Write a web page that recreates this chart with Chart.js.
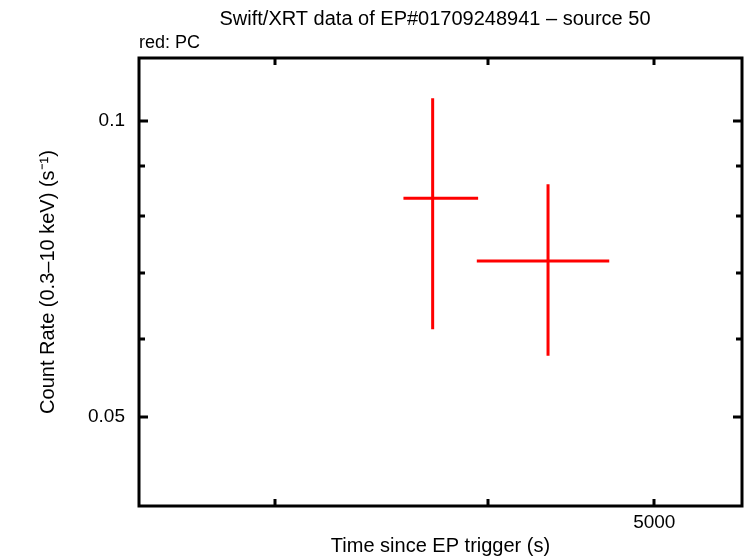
<!DOCTYPE html>
<html>
<head>
<meta charset="utf-8">
<script src="https://cdn.jsdelivr.net/npm/chart.js@4"></script>
<style>
  html, body { margin: 0; padding: 0; background: #fff; }
</style>
</head>
<body>
<canvas id="lc" width="746" height="558"></canvas>
<script>
// light curve bins (PC mode)
const times = [3711, 4334];
const timeLo = [3568, 3938];
const timeHi = [3945, 4706];
const rates = [0.0834, 0.0720];
const rateLo = [0.0614, 0.0577];
const rateHi = [0.1054, 0.0862];

const xTicks = [3000, 4000, 5000];
const xLabels = ['', '', '5000'];
const yTicks = [0.05, 0.06, 0.07, 0.08, 0.09, 0.1];
const yLabels = ['0.05', '', '', '', '', '0.1'];
const yMajor = [0.05, 0.1];

const title = 'Swift/XRT data of EP#01709248941 \u2013 source 50';
const subtitle = 'red: PC';

const FONT = '"Liberation Sans", Arial, sans-serif';

const points = times.map((t, i) => ({
  x: t, y: rates[i],
  xMin: timeLo[i], xMax: timeHi[i], yMin: rateLo[i], yMax: rateHi[i]
}));

// error bars, frame, inward ticks and the titles
const gnuplotLook = {
  id: 'gnuplotLook',
  afterDatasetsDraw(chart) {
    const ctx = chart.ctx;
    const xs = chart.scales.x, ys = chart.scales.y;
    ctx.save();
    ctx.strokeStyle = '#ff0000';
    ctx.lineWidth = 3;
    chart.data.datasets[0].data.forEach(p => {
      const px = xs.getPixelForValue(p.x), py = ys.getPixelForValue(p.y);
      ctx.beginPath();
      ctx.moveTo(xs.getPixelForValue(p.xMin), py);
      ctx.lineTo(xs.getPixelForValue(p.xMax), py);
      ctx.moveTo(px, ys.getPixelForValue(p.yMin));
      ctx.lineTo(px, ys.getPixelForValue(p.yMax));
      ctx.stroke();
    });
    ctx.restore();
  },
  afterDraw(chart) {
    const ctx = chart.ctx;
    const a = chart.chartArea;
    const xs = chart.scales.x, ys = chart.scales.y;
    ctx.save();
    ctx.strokeStyle = '#000';
    ctx.lineWidth = 3;
    ctx.strokeRect(a.left, a.top, a.right - a.left, a.bottom - a.top);

    ctx.beginPath();
    yTicks.forEach(v => {
      const py = Math.round(ys.getPixelForValue(v));
      const len = yMajor.includes(v) ? 9 : 6;
      ctx.moveTo(a.left, py); ctx.lineTo(a.left + len, py);
      ctx.moveTo(a.right, py); ctx.lineTo(a.right - len, py);
    });
    xTicks.forEach(v => {
      const px = Math.round(xs.getPixelForValue(v));
      ctx.moveTo(px, a.bottom); ctx.lineTo(px, a.bottom - 7);
      ctx.moveTo(px, a.top); ctx.lineTo(px, a.top + 7);
    });
    ctx.stroke();

    ctx.fillStyle = '#000';
    ctx.textBaseline = 'middle';
    ctx.textAlign = 'center';
    ctx.font = '20px ' + FONT;
    ctx.fillText(title, 435, 19);
    ctx.textAlign = 'left';
    ctx.font = '18px ' + FONT;
    ctx.fillText(subtitle, a.left, 43);
    ctx.restore();
  }
};

new Chart(document.getElementById('lc'), {
  type: 'scatter',
  data: {
    datasets: [{
      label: 'PC',
      data: points,
      pointRadius: 0,
      borderColor: '#ff0000',
      backgroundColor: '#ff0000'
    }]
  },
  options: {
    responsive: false,
    animation: false,
    layout: { padding: { top: 58, right: 4, left: 0, bottom: 0 } },
    plugins: { legend: { display: false }, tooltip: { enabled: false } },
    scales: {
      x: {
        type: 'logarithmic',
        position: 'bottom',
        min: 2500,
        max: 5626,
        grid: { display: false, drawTicks: false },
        border: { display: false },
        afterBuildTicks: s => { s.ticks = xTicks.map(v => ({ value: v })); },
        afterFit: s => { s.height = 52; },
        ticks: {
          autoSkip: false,
          maxRotation: 0,
          padding: 5,
          color: '#000',
          font: { family: FONT, size: 19 },
          callback: v => xLabels[xTicks.indexOf(v)] ?? ''
        },
        title: {
          display: true,
          text: 'Time since EP trigger (s)',
          color: '#000',
          font: { family: FONT, size: 20 },
          padding: { top: 0, bottom: 0 }
        }
      },
      y: {
        type: 'logarithmic',
        position: 'left',
        min: 0.0406,
        max: 0.1158,
        grid: { display: false, drawTicks: false },
        border: { display: false },
        afterBuildTicks: s => { s.ticks = yTicks.map(v => ({ value: v })); },
        afterFit: s => { s.width = 139; },
        ticks: {
          autoSkip: false,
          padding: 14,
          color: '#000',
          font: { family: FONT, size: 19 },
          callback: v => yLabels[yTicks.indexOf(v)] ?? ''
        },
        title: {
          display: true,
          text: 'Count Rate (0.3\u201310 keV) (s\u207B\u00B9)',
          color: '#000',
          font: { family: FONT, size: 20 },
          padding: { top: 36, bottom: 0 }
        }
      }
    }
  },
  plugins: [gnuplotLook]
});
</script>
</body>
</html>
